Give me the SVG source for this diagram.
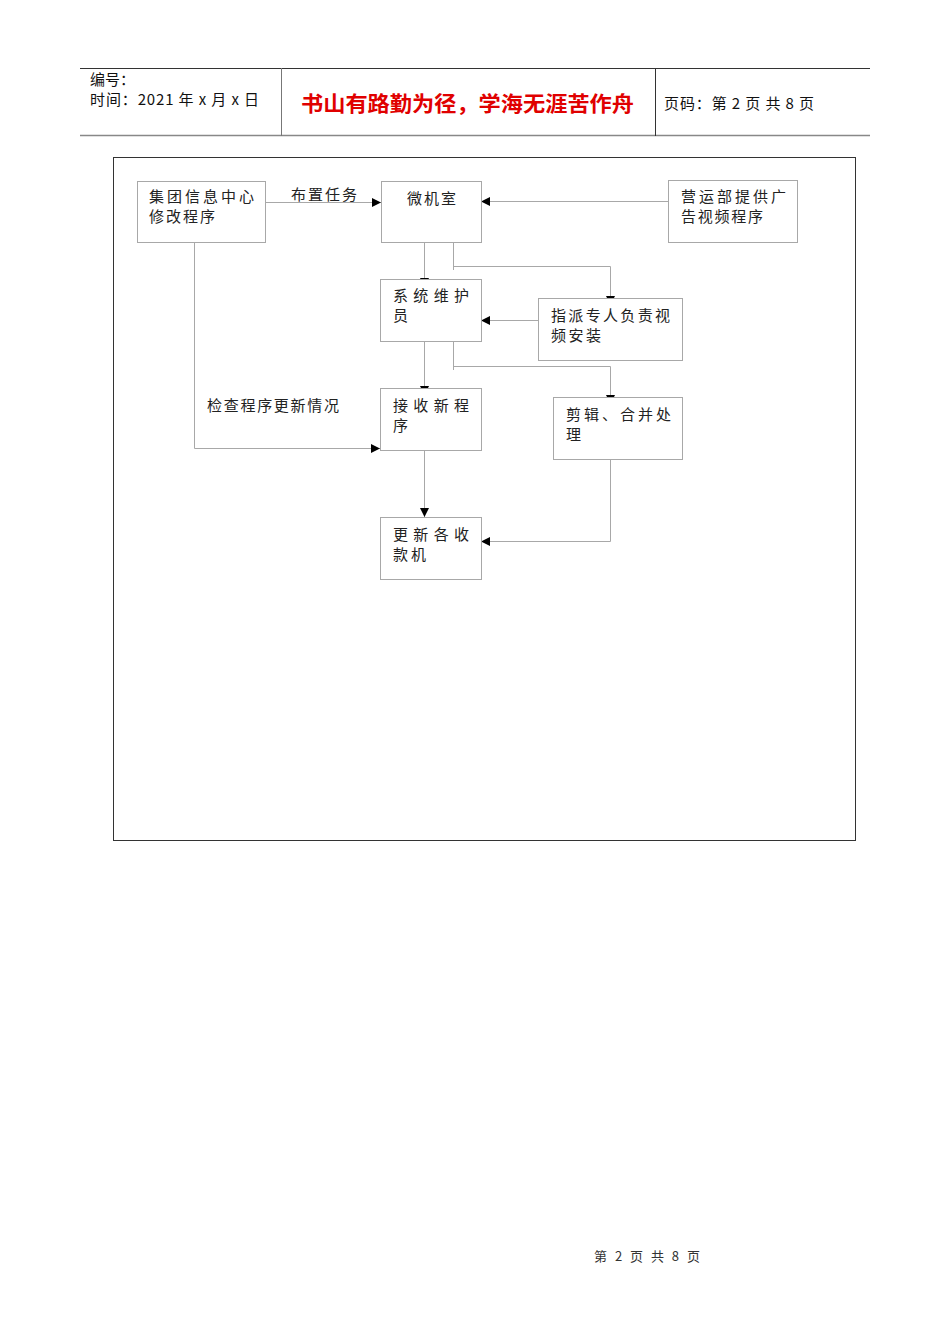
<svg xmlns="http://www.w3.org/2000/svg" width="950" height="1344" viewBox="0 0 950 1344">
<defs>
<marker id="arr" markerWidth="10" markerHeight="10" refX="9" refY="5" orient="auto" markerUnits="userSpaceOnUse">
<path d="M0,0.5 L9,5 L0,9.5 Z" fill="#000"/>
</marker>
<style>
.t{font-family:"Noto Sans CJK SC","Liberation Sans",sans-serif;font-size:15px;fill:#222;}
.h{font-family:"Noto Sans CJK SC","Liberation Sans",sans-serif;font-size:15px;fill:#111;}
.box{fill:#fff;stroke:#a8a8a8;stroke-width:1;}
.c{fill:none;stroke:#a8a8a8;stroke-width:1;}
</style>
</defs>
<rect width="950" height="1344" fill="#fff"/>
<g id="header">
<line x1="80" y1="68.5" x2="870" y2="68.5" stroke="#333" stroke-width="1"/>
<line x1="80" y1="135.5" x2="870" y2="135.5" stroke="#888" stroke-width="1.5"/>
<line x1="281.5" y1="68" x2="281.5" y2="136" stroke="#777" stroke-width="1"/>
<line x1="655.5" y1="68" x2="655.5" y2="136" stroke="#333" stroke-width="1"/>
<text class="h" x="90" y="85">编号：</text>
<text class="h" x="90" y="105" textLength="169" lengthAdjust="spacing">时间：2021 年 x 月 x 日</text>
<text x="301" y="111" font-family="Noto Sans CJK SC,sans-serif" font-size="21" font-weight="bold" fill="#e00000" textLength="333" lengthAdjust="spacingAndGlyphs">书山有路勤为径，学海无涯苦作舟</text>
<text class="h" x="664" y="109" textLength="150" lengthAdjust="spacing">页码：第 2 页  共 8 页</text>
</g>
<rect id="frame" x="113.5" y="157.5" width="742" height="683" fill="none" stroke="#333" stroke-width="1"/>
<g id="connectors">
<line class="c" x1="265" y1="202.5" x2="381" y2="202.5" marker-end="url(#arr)"/>
<line class="c" x1="668" y1="201.5" x2="481" y2="201.5" marker-end="url(#arr)"/>
<polyline class="c" points="424.5,237 424.5,287" marker-end="url(#arr)"/>
<polyline class="c" points="453.5,235 453.5,270"/>
<polyline class="c" points="453.5,266.5 610.5,266.5 610.5,305" marker-end="url(#arr)"/>
<line class="c" x1="538" y1="320.5" x2="481" y2="320.5" marker-end="url(#arr)"/>
<polyline class="c" points="424.5,336 424.5,395" marker-end="url(#arr)"/>
<polyline class="c" points="453.5,336 453.5,370"/>
<polyline class="c" points="453.5,366.5 610.5,366.5 610.5,404" marker-end="url(#arr)"/>
<polyline class="c" points="194.5,237 194.5,448.5 380,448.5" marker-end="url(#arr)"/>
<polyline class="c" points="424.5,443 424.5,517" marker-end="url(#arr)"/>
<polyline class="c" points="610.5,457 610.5,541.5 481,541.5" marker-end="url(#arr)"/>
<text class="t" x="291" y="200" textLength="66" lengthAdjust="spacing">布置任务</text>
<text class="t" x="207" y="411" textLength="132" lengthAdjust="spacing">检查程序更新情况</text>
</g>
<g id="n1">
<rect class="box" x="137.5" y="181.5" width="128" height="61"/>
<text class="t" x="149" y="202" textLength="105" lengthAdjust="spacing">集团信息中心</text>
<text class="t" x="149" y="222" textLength="66" lengthAdjust="spacing">修改程序</text>
</g>
<g id="n2">
<rect class="box" x="381.5" y="181.5" width="100" height="61"/>
<text class="t" x="407" y="204" textLength="49" lengthAdjust="spacing">微机室</text>
</g>
<g id="n3">
<rect class="box" x="668.5" y="180.5" width="129" height="62"/>
<text class="t" x="681" y="202" textLength="105" lengthAdjust="spacing">营运部提供广</text>
<text class="t" x="681" y="222" textLength="82" lengthAdjust="spacing">告视频程序</text>
</g>
<g id="n4">
<rect class="box" x="380.5" y="279.5" width="101" height="62"/>
<text class="t" x="393" y="301" textLength="76" lengthAdjust="spacing">系统维护</text>
<text class="t" x="393" y="321">员</text>
</g>
<g id="n5">
<rect class="box" x="538.5" y="298.5" width="144" height="62"/>
<text class="t" x="551" y="321" textLength="119" lengthAdjust="spacing">指派专人负责视</text>
<text class="t" x="551" y="341" textLength="50" lengthAdjust="spacing">频安装</text>
</g>
<g id="n6">
<rect class="box" x="380.5" y="388.5" width="101" height="62"/>
<text class="t" x="393" y="411" textLength="76" lengthAdjust="spacing">接收新程</text>
<text class="t" x="393" y="431">序</text>
</g>
<g id="n7">
<rect class="box" x="553.5" y="397.5" width="129" height="62"/>
<text class="t" x="566" y="420" textLength="105" lengthAdjust="spacing">剪辑、合并处</text>
<text class="t" x="566" y="440">理</text>
</g>
<g id="n8">
<rect class="box" x="380.5" y="517.5" width="101" height="62"/>
<text class="t" x="393" y="540" textLength="76" lengthAdjust="spacing">更新各收</text>
<text class="t" x="393" y="560" textLength="33" lengthAdjust="spacing">款机</text>
</g>
<text id="footer" x="594" y="1261" font-family="Noto Sans CJK SC,sans-serif" font-size="13" fill="#333" textLength="106" lengthAdjust="spacing">第 2 页 共 8 页</text>
</svg>
